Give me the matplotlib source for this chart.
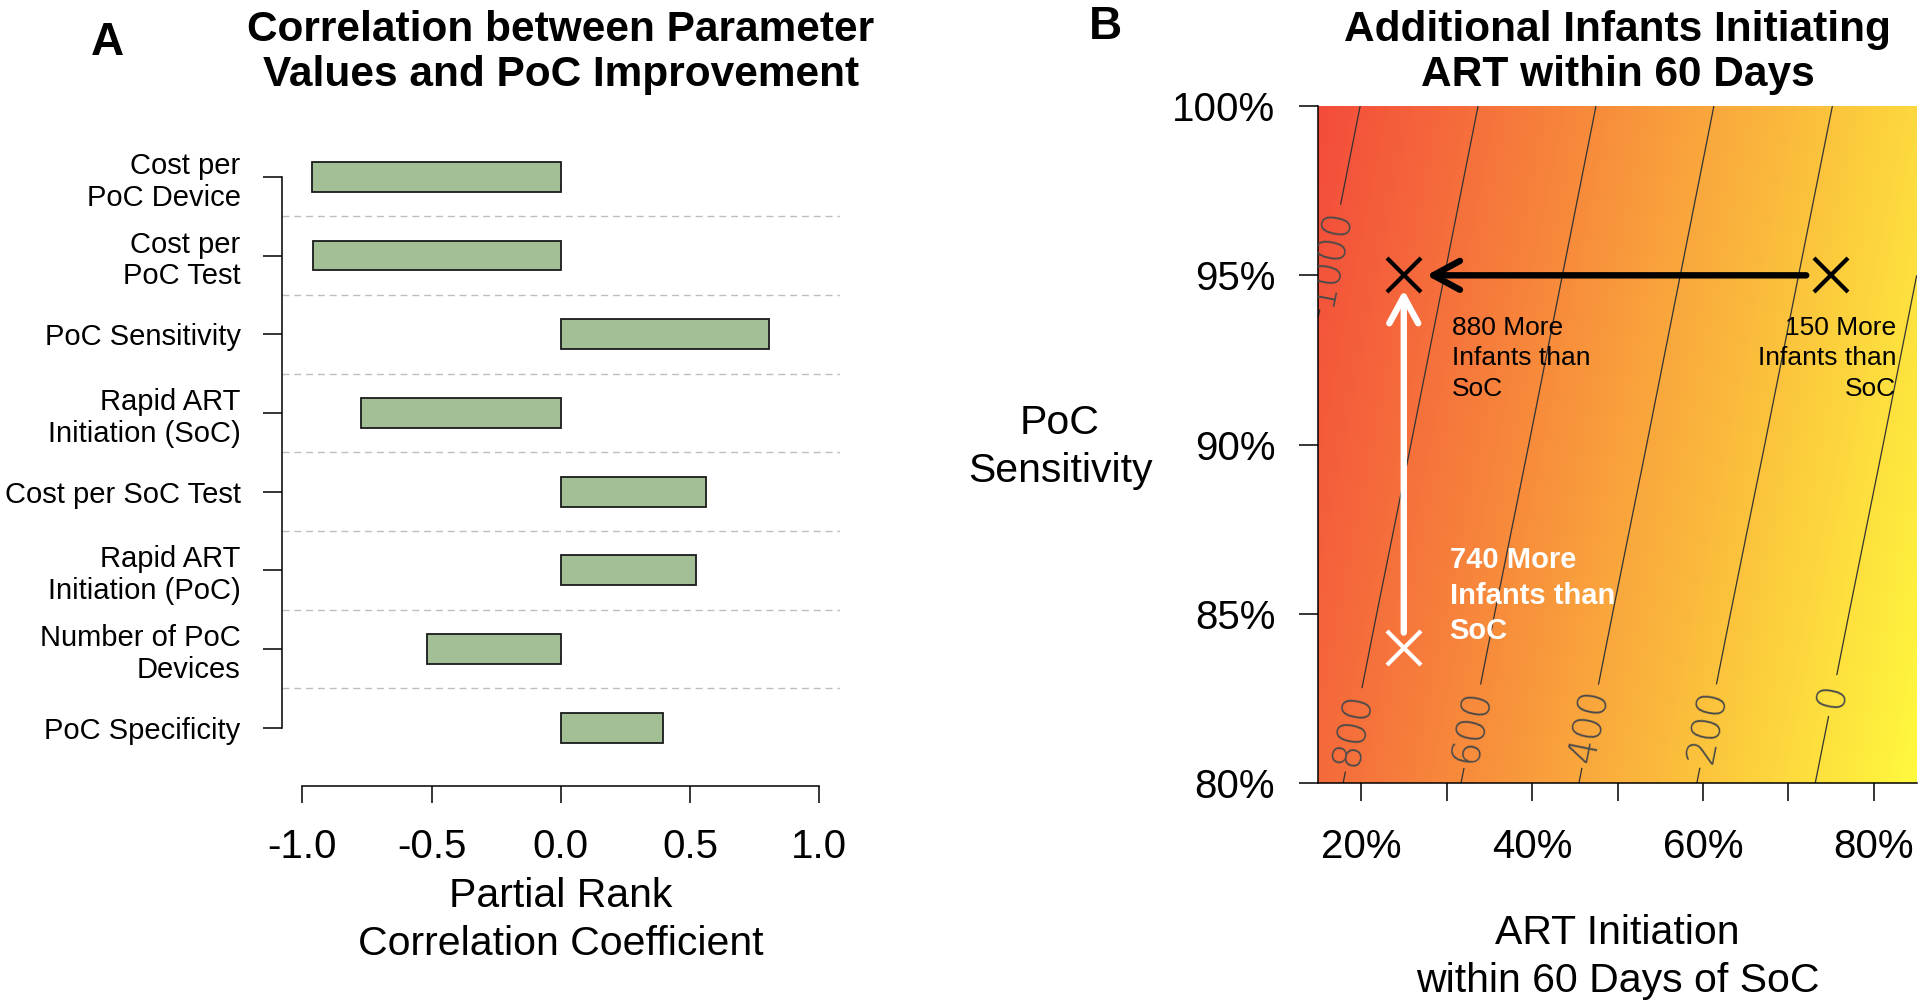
import numpy as np
import matplotlib
matplotlib.use("Agg")
import matplotlib.pyplot as plt
from matplotlib.colors import LinearSegmentedColormap, hsv_to_rgb

plt.rcParams['font.family'] = ['Liberation Sans', 'DejaVu Sans']

# ---------------- Panel A data ----------------
params = ["Cost per\nPoC Device", "Cost per\nPoC Test", "PoC Sensitivity",
          "Rapid ART\nInitiation (SoC)", "Cost per SoC Test",
          "Rapid ART\nInitiation (PoC)", "Number of PoC\nDevices", "PoC Specificity"]
prcc = [-0.964, -0.957, 0.805, -0.773, 0.560, 0.522, -0.517, 0.397]
a_xticks = [-1.0, -0.5, 0.0, 0.5, 1.0]
a_xticklabels = ["-1.0", "-0.5", "0.0", "0.5", "1.0"]

# ---------------- Panel B data ----------------
soc_art = [15, 25, 35, 45, 55, 65, 75, 85]        # ART initiation within 60 days of SoC (%)
poc_sens = [80, 85, 90, 95, 100]                  # PoC sensitivity (%)
extra_infants = [
    [842, 697, 552, 407, 262, 117, -27, -172],    # 80%
    [899, 754, 609, 464, 319, 174, 30, -115],     # 85%
    [957, 812, 667, 522, 377, 232, 88, -57],      # 90%
    [1014, 869, 724, 579, 434, 289, 145, 0],      # 95%
    [1071, 926, 781, 636, 491, 346, 202, 57],     # 100%
]
contour_levels = [0, 200, 400, 600, 800, 1000]
label_spots = [(17.2, 95.5), (18.7, 81.6), (32.7, 81.7), (46.5, 81.7), (60.4, 81.7), (75.0, 82.6)]
b_xticks = [20, 30, 40, 50, 60, 70, 80]
b_xticklabels = ["20%", "", "40%", "", "60%", "", "80%"]
b_yticks = [80, 85, 90, 95, 100]
b_yticklabels = ["80%", "85%", "90%", "95%", "100%"]

# scenario points
soc_from, soc_to = 75, 25
sens_from, sens_to = 84, 95
gain_soc_only = 150
gain_both = 880
gain_sens = 740

W, H = 1920, 1005
fig = plt.figure(figsize=(W / 100, H / 100), dpi=100)

# ================= Panel A =================
axA = fig.add_axes([281.7 / W, 1 - 749.7 / H, 558.3 / W, 594.9 / H])
ypos = np.arange(1, len(params) + 1)
for yb in ypos[:-1] + 0.5:
    axA.axhline(yb, color='#BEBEBE', lw=1.0, ls=(0, (5, 3.5)), zorder=1)
axA.barh(ypos, prcc, height=0.38, color='#A3BF96', edgecolor='#1a1a1a', linewidth=1.3, zorder=2)
axA.set_xlim(-1.08, 1.08)
axA.set_ylim(len(params) + 0.28, 0.72)
for s in ['top', 'right']:
    axA.spines[s].set_visible(False)
axA.spines['left'].set_bounds(1, len(params))
axA.spines['bottom'].set_bounds(-1, 1)
axA.spines['bottom'].set_position(('outward', 26.3))
axA.spines['left'].set_linewidth(1.1)
axA.spines['bottom'].set_linewidth(1.1)
axA.set_yticks(ypos)
axA.set_yticklabels(params, fontsize=21, linespacing=1.18)
axA.set_xticks(a_xticks)
axA.set_xticklabels(a_xticklabels, fontsize=29)
axA.tick_params(axis='y', length=14, width=1.1, pad=15.5)
axA.tick_params(axis='x', length=12, width=1.1, pad=18)
axA.set_xlabel("Partial Rank\nCorrelation Coefficient", fontsize=29.5, va='top', linespacing=1.33)
axA.xaxis.set_label_coords(560.9 / W, 1 - 877 / H, transform=fig.transFigure)
axA.set_title("Correlation between Parameter\nValues and PoC Improvement",
              fontsize=30.5, fontweight='bold', linespacing=1.15, pad=49.5)

# ================= Panel B =================
axB = fig.add_axes([1318.3 / W, 1 - 783.3 / H, 598.4 / W, 677.3 / H])
hues = np.linspace(0.165, 0.012, 24)
vals = np.linspace(1.0, 0.95, 24)
cmap = LinearSegmentedColormap.from_list(
    'heatish', [hsv_to_rgb((h, 0.76, v)) for h, v in zip(hues, vals)])
Z = np.array(extra_infants)
axB.contourf(soc_art, poc_sens, Z, levels=np.linspace(-200, 1100, 261),
             cmap=cmap, antialiased=False, zorder=0)
cs = axB.contour(soc_art, poc_sens, Z, levels=contour_levels,
                 colors='#333333', linewidths=0.9, zorder=1)
labels = axB.clabel(cs, manual=label_spots, inline=True, inline_spacing=10,
                    fontsize=28, colors='#4a4a4a', fmt='%d')
for t in labels:
    t.set_family(['DejaVu Sans', 'Liberation Sans'])
    t.set_fontweight('ultralight')

axB.set_xlim(15, 85)
axB.set_ylim(80, 100)
for s in ['top', 'right']:
    axB.spines[s].set_visible(False)
axB.spines['left'].set_linewidth(1.1)
axB.spines['bottom'].set_linewidth(1.1)
axB.set_xticks(b_xticks)
axB.set_xticklabels(b_xticklabels, fontsize=29)
axB.set_yticks(b_yticks)
axB.set_yticklabels(b_yticklabels, fontsize=29)
axB.tick_params(axis='y', length=14, width=1.1, pad=17)
axB.tick_params(axis='x', length=13, width=1.1, pad=19)
axB.set_xlabel("ART Initiation\nwithin 60 Days of SoC", fontsize=29.5, va='top', linespacing=1.33)
axB.xaxis.set_label_coords(1617.5 / W, 1 - 914 / H, transform=fig.transFigure)
axB.set_ylabel("PoC\nSensitivity", fontsize=29.5, rotation=0, ha='center', va='center',
               linespacing=1.33)
axB.yaxis.set_label_coords(1060 / W, 1 - 447 / H, transform=fig.transFigure)
axB.set_title("Additional Infants Initiating\nART within 60 Days",
              fontsize=30.5, fontweight='bold', linespacing=1.15, pad=14.4)

# arrows
axB.annotate('', xy=(soc_to, sens_to), xytext=(soc_from, sens_to),
             arrowprops=dict(arrowstyle='->,head_length=0.96,head_width=0.52',
                             mutation_scale=20, lw=4.6, color='black',
                             shrinkA=18, shrinkB=16.4), zorder=4)
axB.annotate('', xy=(soc_to, sens_to), xytext=(soc_to, sens_from),
             arrowprops=dict(arrowstyle='->,head_length=0.96,head_width=0.52',
                             mutation_scale=20, lw=4.6, color='white',
                             shrinkA=11, shrinkB=10.5), zorder=4)
# markers
axB.plot([soc_to, soc_from], [sens_to, sens_to], ls='none', marker='x',
         ms=24, mew=3.0, color='black', zorder=5)
axB.plot([soc_to], [sens_from], ls='none', marker='x', ms=24, mew=3.0,
         color='white', zorder=5)

# annotations
axB.annotate(f"{gain_both} More\nInfants than\nSoC", xy=(soc_to, sens_to),
             xytext=(34.4, -29), textcoords='offset points', ha='left', va='top',
             fontsize=19, color='black', linespacing=1.36, zorder=6)
axB.annotate(f"{gain_soc_only} More\nInfants than\nSoC", xy=(soc_from, sens_to),
             xytext=(46.7, -29), textcoords='offset points', ha='right', va='top',
             multialignment='right', fontsize=19, color='black', linespacing=1.36, zorder=6)
axB.annotate(f"{gain_sens} More\nInfants than\nSoC", xy=(soc_to, sens_from),
             xytext=(33, 73), textcoords='offset points', ha='left', va='top',
             fontsize=21, fontweight='bold', color='white', linespacing=1.33, zorder=6)

# panel letters
fig.text(107.8 / W, 1 - 55 / H, "A", fontsize=33, fontweight='bold', ha='center', va='baseline')
fig.text(1105.7 / W, 1 - 39 / H, "B", fontsize=33, fontweight='bold', ha='center', va='baseline')

fig.savefig("out.png", dpi=100)
